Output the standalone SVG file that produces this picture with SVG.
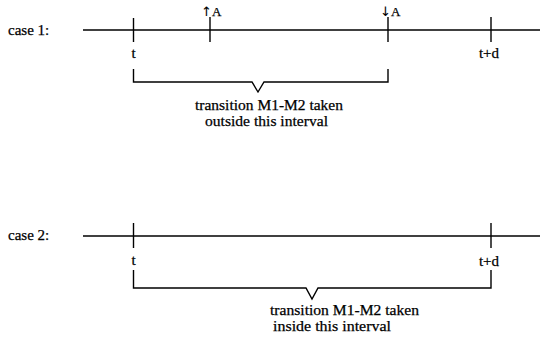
<svg xmlns="http://www.w3.org/2000/svg" width="540" height="344" viewBox="0 0 540 344">
  <style>
    .ln { stroke: #000; stroke-width: 1.4; fill: none; }
    .tx { font-family: 'Liberation Serif', 'DejaVu Serif', serif; font-size: 15px; fill: #000; stroke: #000; stroke-width: 0.25; }
    .sm { font-size: 13px; }
    .ar { font-family: 'DejaVu Sans', sans-serif; font-size: 13px; stroke-width: 0.1; }
  </style>
  <rect width="540" height="344" fill="#fff"/>

  <!-- case 1 -->
  <g id="case1">
    <text class="tx" x="8" y="35">case 1:</text>
    <g id="case1-timeline">
      <line class="ln" x1="83" y1="30" x2="540" y2="30"/>
      <line class="ln" x1="133.5" y1="18" x2="133.5" y2="42"/>
      <line class="ln" x1="210" y1="17" x2="210" y2="42"/>
      <line class="ln" x1="388" y1="17" x2="388" y2="42"/>
      <line class="ln" x1="491" y1="17" x2="491" y2="42"/>
    </g>
    <text class="tx sm" x="201" y="16"><tspan class="ar">↑</tspan>A</text>
    <text class="tx sm" x="380" y="16"><tspan class="ar">↓</tspan>A</text>
    <text class="tx" x="133.5" y="58" text-anchor="middle">t</text>
    <text class="tx" x="489" y="58" text-anchor="middle">t+d</text>
    <path class="ln" d="M133.5 69 V82 H252 L258 92 L264 82 H388 V69"/>
    <text class="tx" x="195" y="110" textLength="148" lengthAdjust="spacingAndGlyphs">transition M1-M2 taken</text>
    <text class="tx" x="205" y="126" textLength="123" lengthAdjust="spacingAndGlyphs">outside this interval</text>
  </g>

  <!-- case 2 -->
  <g id="case2">
    <text class="tx" x="8" y="240">case 2:</text>
    <g id="case2-timeline">
      <line class="ln" x1="83" y1="236" x2="540" y2="236"/>
      <line class="ln" x1="133.5" y1="223" x2="133.5" y2="248"/>
      <line class="ln" x1="491" y1="223" x2="491" y2="248"/>
    </g>
    <text class="tx" x="133.5" y="265" text-anchor="middle">t</text>
    <text class="tx" x="489" y="266" text-anchor="middle">t+d</text>
    <path class="ln" d="M133.5 270 V288 H306 L312 299 L318 288 H491 V270"/>
    <text class="tx" x="270" y="315" textLength="149" lengthAdjust="spacingAndGlyphs">transition M1-M2 taken</text>
    <text class="tx" x="273" y="331" textLength="118" lengthAdjust="spacingAndGlyphs">inside this interval</text>
  </g>
</svg>
